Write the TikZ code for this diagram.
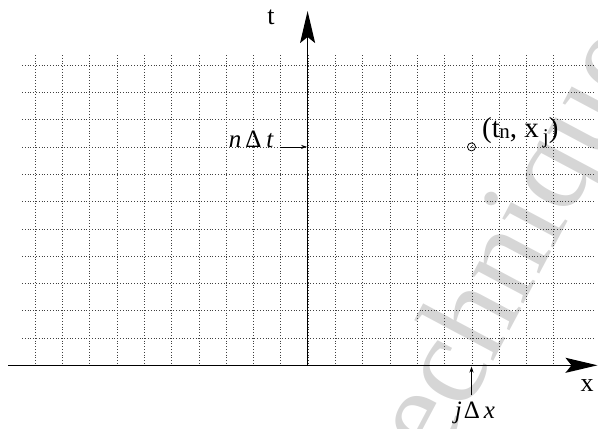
\documentclass[tikz,border=0pt]{standalone}
\usepackage{fontspec}
\setmainfont{Liberation Serif}
\usetikzlibrary{arrows.meta}
\begin{document}
\begin{tikzpicture}[x=1pt,y=-1pt,
  gridline/.style={line width=0.6pt, black!75, dash pattern=on 0.8pt off 2pt},
  axis/.style={line width=1.4pt, -{Stealth[length=32pt,width=15pt,inset=6pt]}},
  marker/.style={line width=0.8pt, -{Stealth[length=6pt,width=4pt]}},
  lbl/.style={inner sep=0pt, font=\fontsize{25}{29}\selectfont},
  ptlbl/.style={inner sep=0pt, font=\fontsize{29}{33}\selectfont},
  axlbl/.style={inner sep=0pt, font=\fontsize{26}{30}\selectfont},
  wmark/.style={inner sep=0pt, text=black!16, font=\fontsize{128}{136}\selectfont}]
\useasboundingbox (0,0) rectangle (598,429);
% watermark
\node[wmark, rotate=62] (wm) at (520,245) {echnique};
% grid
\foreach \k in {0,...,19} {
  \draw[gridline] (35+27.3*\k,55) -- (35+27.3*\k,365.3);
}
\foreach \k in {1,...,11} {
  \draw[gridline] (22,365.3-27.3*\k) -- (594,365.3-27.3*\k);
}
% axes
\coordinate (O) at (307.6,365.3);
\coordinate (xstart) at (8,365.3);
\coordinate (xend) at (597.5,365.3);
\coordinate (tend) at (307.6,11);
\draw[axis] (xstart) -- (xend);
\draw[axis] (O) -- (tend);
\node[axlbl] (tl) at (271,17) {t};
\node[axlbl] (xl) at (587,386) {x};
% n Delta t
\node[lbl, anchor=base east] (nl) at (274,147) {\textit{n}\hspace{4pt}Δ\hspace{5pt}\textit{t}};
\coordinate (ns) at (280,146.9);
\coordinate (ne) at (307,146.9);
\draw[marker] (ns) -- (ne);
% point
\node[circle, draw, line width=0.8pt, minimum size=8pt, inner sep=0pt] (P) at (471.5,146.9) {};
\fill (P.center) circle (0.7pt);
\node[ptlbl, anchor=base west] (pl) at (482,137.5) {(t\hspace{-0.5pt}\raisebox{-1pt}{\fontsize{21}{23}\selectfont n}, x\hspace{4pt}\raisebox{-6pt}{\fontsize{21}{23}\selectfont j})};
% j Delta x
\node[lbl, anchor=base] (jl) at (475,418.5) {\textit{j}\hspace{2pt}Δ\hspace{4pt}\textit{x}};
\coordinate (jb) at (471.5,395);
\coordinate (jt) at (471.5,366.5);
\draw[marker] (jb) -- (jt);
\end{tikzpicture}
\end{document}
